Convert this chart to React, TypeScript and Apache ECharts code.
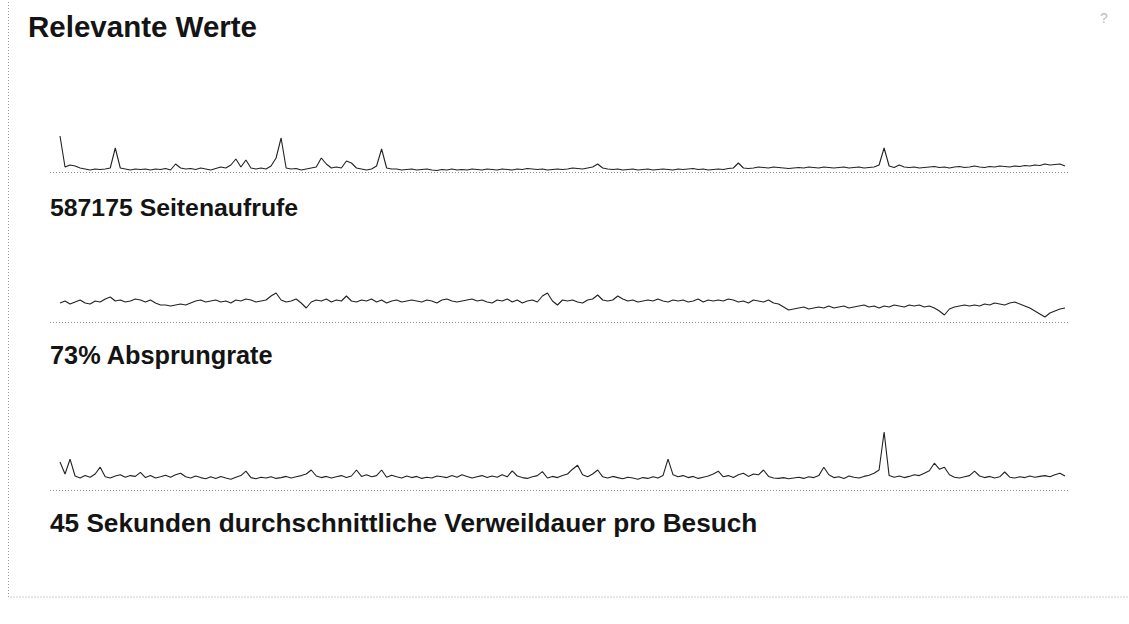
import React, { useEffect, useRef } from "react";
import * as echarts from "echarts";

const title = "Relevante Werte";
const labels = [
  "587175 Seitenaufrufe",
  "73% Absprungrate",
  "45 Sekunden durchschnittliche Verweildauer pro Besuch",
];

// page views per day
const seitenaufrufe = [
  5600, 2500, 2700, 2600, 2400, 2300, 2200, 2300, 2250, 2300,
  2400, 4400, 2400, 2300, 2200, 2300, 2250, 2300, 2200, 2300,
  2250, 2350, 2200, 2800, 2400, 2300, 2350, 2250, 2400, 2300,
  2200, 2350, 2500, 2400, 2700, 3300, 2500, 3200, 2400, 2300,
  2400, 2300, 2600, 3400, 5400, 2400, 2300, 2350, 2200, 2300,
  2400, 2500, 3400, 2800, 2400, 2500, 2400, 3100, 2900, 2400,
  2300, 2200, 2300, 2600, 4300, 2400, 2300, 2300, 2200, 2250,
  2300, 2200, 2250, 2300, 2200, 2150, 2250, 2200, 2300, 2200,
  2250, 2200, 2300, 2250, 2200, 2300, 2250, 2200, 2300, 2250,
  2200, 2300, 2250, 2350, 2300, 2250, 2300, 2200, 2250, 2300,
  2250, 2300, 2400, 2350, 2300, 2400, 2500, 2800, 2400, 2300,
  2250, 2300, 2200, 2250, 2300, 2200, 2250, 2300, 2200, 2250,
  2300, 2250, 2200, 2300, 2250, 2300, 2350, 2250, 2300, 2200,
  2250, 2300, 2250, 2350, 2400, 2900, 2400, 2350, 2400, 2500,
  2450, 2400, 2500, 2450, 2400, 2350, 2400, 2450, 2400, 2500,
  2450, 2400, 2500, 2450, 2400, 2450, 2500, 2400, 2450, 2500,
  2400, 2450, 2500, 2700, 4400, 2600, 2450, 2700, 2500, 2450,
  2500, 2400, 2450, 2500, 2550, 2450, 2500, 2400, 2500, 2550,
  2450, 2500, 2600, 2500, 2450, 2550, 2500, 2600, 2550, 2500,
  2600, 2550, 2650, 2600, 2700, 2650, 2800, 2700, 2750, 2800,
  2600,
];

// bounce rate in percent
const absprungrate = [
  75, 77, 74, 76, 78, 75, 74, 77, 76, 79, 81,
  77, 78, 76, 77, 79, 78, 76, 78, 75, 73,
  73, 72, 73, 74, 73, 75, 77, 78, 76, 77,
  78, 76, 77, 75, 78, 77, 79, 78, 76, 77,
  78, 82, 85, 78, 76, 77, 79, 75, 70, 76,
  78, 77, 79, 76, 78, 77, 82, 77, 76, 78,
  77, 79, 76, 78, 75, 77, 78, 76, 77, 78,
  77, 76, 78, 77, 75, 78, 79, 77, 76, 77,
  78, 79, 77, 78, 76, 75, 78, 77, 79, 76,
  78, 75, 77, 78, 76, 82, 85, 77, 73, 78,
  77, 78, 76, 75, 78, 79, 83, 78, 77, 78,
  82, 79, 77, 78, 76, 77, 78, 77, 79, 77,
  76, 78, 77, 78, 76, 77, 79, 76, 78, 77,
  78, 77, 79, 78, 76, 77, 75, 78, 77, 76,
  78, 75, 74, 71, 68, 69, 70, 71, 69, 70,
  71, 70, 72, 70, 71, 72, 70, 71, 72, 73,
  71, 72, 70, 72, 71, 73, 72, 71, 73, 72,
  73, 71, 72, 70, 67, 63, 69, 71, 72, 73,
  72, 73, 72, 74, 73, 75, 74, 73, 75, 76,
  74, 72, 70, 67, 64, 61, 65, 67, 69, 70,
];

// average time on site in seconds
const verweildauer = [
  70, 40, 77, 35, 30, 36, 32, 40, 57, 33,
  30, 35, 38, 32, 36, 34, 44, 31, 36, 30,
  33, 37, 32, 38, 42, 33, 30, 35, 31, 28,
  33, 29, 34, 30, 27, 32, 36, 47, 31, 28,
  32, 30, 33, 29, 31, 34, 30, 33, 36, 40,
  50, 35, 31, 34, 30, 33, 36, 31, 35, 50,
  34, 38, 33, 36, 50, 32, 37, 33, 30, 35,
  31, 34, 29, 32, 30, 35, 33, 31, 36, 32,
  38, 34, 30, 33, 36, 31, 35, 32, 38, 33,
  48, 35, 31, 29, 33, 36, 46, 30, 34, 31,
  36, 40, 52, 62, 38, 33, 40, 50, 33, 30,
  34, 31, 28, 32, 30, 27, 31, 29, 33, 30,
  36, 77, 38, 33, 36, 31, 34, 29, 32, 35,
  40, 47, 33, 36, 31, 38, 42, 34, 40, 38,
  50, 34, 30, 29, 31, 28, 30, 32, 29, 33,
  31, 36, 57, 38, 31, 33, 29, 35, 32, 30,
  34, 37, 42, 50, 145, 36, 32, 35, 31, 34,
  38, 36, 42, 48, 67, 52, 57, 38, 32, 30,
  33, 36, 47, 35, 31, 34, 30, 33, 45, 32,
  30, 33, 31, 35, 32, 34, 36, 33, 38, 42,
  35,
];

const days = seitenaufrufe.map((_, i) => "Tag " + (i + 1));

const series = [seitenaufrufe, absprungrate, verweildauer];
const yRanges = [
  [2000, 6200],
  [56, 88],
  [0, 150],
];
const grids = [
  { top: 130, height: 42 },
  { top: 290, height: 32 },
  { top: 430, height: 60 },
];
const labelY = [207, 355, 523];
const labelSize = [24.8, 25.3, 26.2];

export default function App() {
  const ref = useRef<HTMLDivElement>(null);
  useEffect(() => {
    if (!ref.current) return;
    const chart = echarts.init(ref.current, undefined, { renderer: "svg" });
    const font = "'Liberation Sans', Arial, sans-serif";
    const graphic: any[] = [
      {
        type: "rect",
        shape: { x: 8.5, y: -5, width: 1130, height: 602 },
        style: { fill: "none", stroke: "#9a9a9a", lineWidth: 1, lineDash: [1, 2] },
        silent: true,
      },
      {
        type: "text",
        x: 28,
        y: 26,
        style: {
          text: title,
          font: `bold 29.5px ${font}`,
          fill: "#141414",
          textVerticalAlign: "middle",
        },
      },
      {
        type: "text",
        x: 1100,
        y: 18,
        style: {
          text: "?",
          font: `14px ${font}`,
          fill: "#bdbdbd",
          textVerticalAlign: "middle",
        },
      },
    ];
    grids.forEach((g, k) => {
      const by = g.top + g.height + 0.5;
      graphic.push({
        type: "line",
        shape: { x1: 50, y1: by, x2: 1070, y2: by },
        style: { stroke: "#8c8c8c", lineWidth: 1, lineDash: [1, 2] },
        silent: true,
      });
      graphic.push({
        type: "text",
        x: 50,
        y: labelY[k],
        style: {
          text: labels[k],
          font: `bold ${labelSize[k]}px ${font}`,
          fill: "#141414",
          textVerticalAlign: "middle",
        },
      });
    });

    chart.setOption({
      animation: false,
      backgroundColor: "#ffffff",
      grid: grids.map((g) => ({ left: 60, width: 1005, top: g.top, height: g.height })),
      xAxis: grids.map((_, k) => ({
        type: "category",
        gridIndex: k,
        data: days,
        boundaryGap: false,
        show: false,
      })),
      yAxis: grids.map((_, k) => ({
        type: "value",
        gridIndex: k,
        min: yRanges[k][0],
        max: yRanges[k][1],
        show: false,
        splitLine: { show: false },
      })),
      series: series.map((d, k) => ({
        type: "line",
        xAxisIndex: k,
        yAxisIndex: k,
        data: d,
        showSymbol: false,
        symbol: "none",
        lineStyle: { color: "#222222", width: 1.1 },
        silent: true,
      })),
      graphic,
    });
    return () => chart.dispose();
  }, []);
  return (
    <div
      ref={ref}
      style={{ position: "fixed", left: 0, top: 0, width: 1129, height: 624, background: "#fff" }}
    />
  );
}
